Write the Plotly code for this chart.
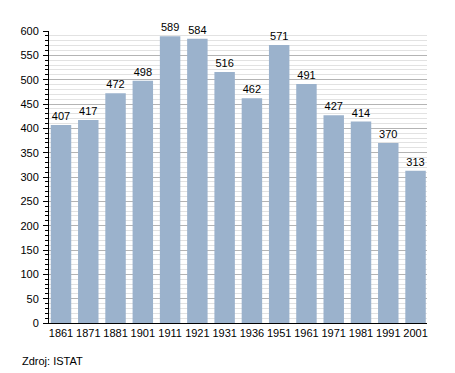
import plotly.graph_objects as go

years = ["1861", "1871", "1881", "1901", "1911", "1921", "1931", "1936", "1951", "1961", "1971", "1981", "1991", "2001"]
population = [407, 417, 472, 498, 589, 584, 516, 462, 571, 491, 427, 414, 370, 313]
y_ticks = list(range(0, 601, 50))

fig = go.Figure(go.Bar(
    x=years, y=population,
    marker=dict(color="#9bb2cc", line=dict(width=0)),
    text=[str(v) for v in population], textposition="outside",
    textfont=dict(size=11, color="black"),
    cliponaxis=False,
))

fig.update_layout(
    width=455, height=373,
    margin=dict(l=49, r=28, t=31, b=50, autoexpand=False),
    paper_bgcolor="white", plot_bgcolor="white",
    font=dict(family="Liberation Sans, Arial, sans-serif", size=11, color="black"),
    bargap=0.25,
    showlegend=False,
    annotations=[dict(text="Zdroj: ISTAT", x=-29/378, y=-38/292, xref="paper", yref="paper",
                      xanchor="left", yanchor="middle", showarrow=False,
                      font=dict(size=11))],
)

fig.update_xaxes(
    type="category", showline=True, linecolor="black", linewidth=1,
    range=[-0.44, 13.42],
    ticks="", showgrid=False, tickfont=dict(size=11),
)
fig.update_yaxes(
    range=[0, 600], tickvals=y_ticks, showline=True, linecolor="black", linewidth=1,
    ticks="outside", ticklen=5, tickcolor="black", ticklabelstandoff=2,
    showgrid=True, gridcolor="#b4b4b4", gridwidth=1,
    minor=dict(dtick=10, showgrid=True, gridcolor="#e2e2e2", ticks="outside", ticklen=3, tickcolor="black"),
    zeroline=False, tickfont=dict(size=11),
)

fig.write_html("out.html", config={"displayModeBar": False},
               post_script="document.body.style.margin='0';document.body.style.overflow='hidden';")
